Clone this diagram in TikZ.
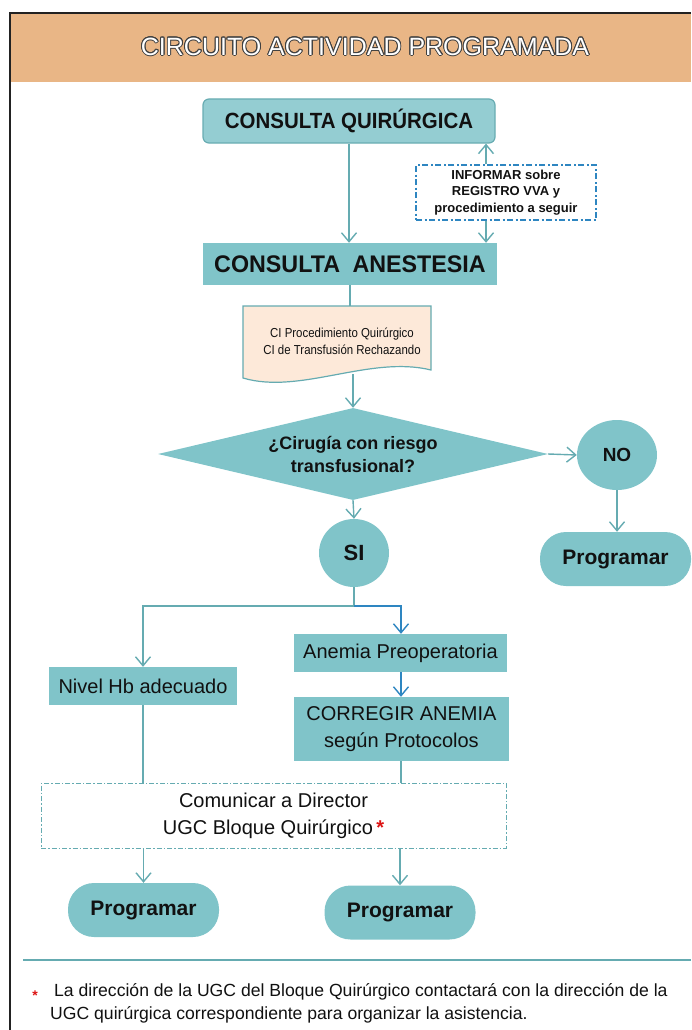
\documentclass[tikz,border=0pt]{standalone}
\usepackage{fontspec}
\setmainfont{Liberation Sans}
\usepackage{contour}
\usetikzlibrary{arrows.meta,shapes.geometric}
\definecolor{hdr}{RGB}{233,182,134}
\definecolor{tealf}{RGB}{128,196,201}
\definecolor{tealq}{RGB}{148,205,210}
\definecolor{tealb}{RGB}{104,172,178}
\definecolor{tline}{RGB}{101,171,177}
\definecolor{bline}{RGB}{46,134,193}
\definecolor{docf}{RGB}{253,233,217}
\definecolor{frm}{RGB}{34,34,34}
\definecolor{txt}{RGB}{17,17,17}
\definecolor{astr}{RGB}{220,20,20}
\contourlength{0.9pt}
\begin{document}
\begin{tikzpicture}[x=1pt,y=-1pt,
  every node/.style={text=txt,inner sep=0pt,align=center},
  boxf/.style={rectangle,fill=tealf},
  pill/.style={rectangle,fill=tealf,rounded corners=26pt,minimum width=151pt,minimum height=54pt,
     font=\fontsize{21}{25}\selectfont\bfseries},
  arr/.style={draw=tline,line width=1.4pt,-{Straight Barb[length=9pt,width=15pt,line width=1.4pt]}},
  barr/.style={draw=bline,line width=1.4pt,-{Straight Barb[length=9pt,width=15pt,line width=1.4pt]}},
  ln/.style={draw=tline,line width=1.4pt},
]
\useasboundingbox (0,0) rectangle (691,1030);
% frame and header
\fill[hdr] (11,14) rectangle (691,82);
\draw[frm,line width=2.5pt] (10,1030) -- (10,13) -- (691,13);
\node (title) at (365,47) {\fontsize{25}{30}\selectfont\contour{black!75}{\textcolor{white}{CIRCUITO ACTIVIDAD PROGRAMADA}}};

% top boxes
\node[rectangle,fill=tealq,draw=tealb,line width=1.2pt,rounded corners=6pt,minimum width=292pt,minimum height=44pt,
  font=\fontsize{22}{26}\selectfont\bfseries\addfontfeatures{FakeStretch=0.93}] (cq) at (349,121) {CONSULTA QUIRÚRGICA};
\node[boxf,minimum width=294pt,minimum height=42pt,
  font=\fontsize{24}{28}\selectfont\bfseries\addfontfeatures{FakeStretch=0.97}] (ca) at (350,264) {CONSULTA\hspace{0.25em} ANESTESIA};
\node[rectangle,draw=bline,line width=1.3pt,dash pattern=on 6pt off 2.5pt on 2pt off 2.5pt,
  minimum width=180pt,minimum height=55pt,font=\fontsize{13}{16.5}\selectfont\bfseries] (inf) at (506,192.5)
  {INFORMAR sobre\\REGISTRO VVA y\\procedimiento a seguir};
\coordinate (ax) at (486,0);
\draw[arr] (inf.north -| ax) -- (cq.south -| ax);
\draw[arr] (inf.south -| ax) -- (ca.north -| ax);
\draw[arr] (cq.south) -- (cq.south |- ca.north);

% document shape
\draw[fill=docf,draw=tline,line width=1.2pt] (243,306) -- (431,306) -- (431,370)
   .. controls (370,355) and (300,395) .. (243,378) -- cycle;
\node[font=\fontsize{13}{17}\selectfont\addfontfeatures{FakeStretch=0.88}] (doc) at (342,341)
  {CI Procedimiento Quirúrgico\\CI de Transfusión Rechazando};
\coordinate (dtop) at (350,306);
\coordinate (dbot) at (353,374);
\draw[ln] (ca.south -| dtop) -- (dtop);

% decision
\node[diamond,fill=tealf,minimum width=390pt,minimum height=92pt,aspect=4.2,
  font=\fontsize{18}{23}\selectfont\bfseries] (dec) at (353,454) {¿Cirugía con riesgo\\transfusional?};
\draw[arr] (dbot) -- (dbot |- dec.north);
\node[ellipse,fill=tealf,minimum width=80pt,minimum height=70pt,font=\fontsize{19}{22}\selectfont\bfseries] (no) at (617,455) {NO};
\draw[arr] (dec.east) -- (no.west);
\node[pill] (pr) at (615.5,559) {Programar};
\draw[arr] (no.south) -- (no.south |- pr.north);
\node[ellipse,fill=tealf,minimum width=70pt,minimum height=68pt,font=\fontsize{22}{26}\selectfont\bfseries] (si) at (354,553) {SI};
\draw[arr] (dec.south) -- (si.north);

% branches
\node[boxf,minimum width=188pt,minimum height=38pt,font=\fontsize{20}{24}\selectfont] (hb) at (143,686) {Nivel Hb adecuado};
\node[boxf,minimum width=213pt,minimum height=38pt,font=\fontsize{20}{24}\selectfont] (an) at (400.5,653) {Anemia Preoperatoria};
\node[boxf,minimum width=215pt,minimum height=64pt,font=\fontsize{20}{26.5}\selectfont] (co) at (401.5,729) {CORREGIR ANEMIA\\según Protocolos};
\coordinate (j) at (354,606);
\coordinate (bx) at (401,0);
\draw[ln] (si.south) -- (j);
\draw[arr] (j) -| (hb.north);
\draw[barr] (j) -| (bx |- an.north);
\draw[barr] (bx |- an.south) -- (bx |- co.north);

% communicate
\node[rectangle,fill=white,draw=tline,line width=1pt,dash pattern=on 5pt off 2pt on 1.5pt off 2pt,
  minimum width=465pt,minimum height=65pt,font=\fontsize{20}{27}\selectfont] (cm) at (273.5,815.5)
  {Comunicar a Director\\UGC Bloque Quirúrgico\,\textcolor{astr}{\bfseries *}};
\draw[ln] (hb.south) -- (hb.south |- cm.north);
\draw[ln] (bx |- co.south) -- (bx |- cm.north);
\node[pill] (pl) at (143.5,910) {Programar};
\node[pill] (pm) at (400,912.5) {Programar};
\draw[arr] (cm.south -| pl.north) -- (pl.north);
\draw[arr] (cm.south -| pm.north) -- (pm.north);

% footnote
\draw[tline,line width=2pt] (23,960) -- (691,960);
\node[anchor=base,text=astr,font=\fontsize{14}{14}\selectfont\bfseries] (ast) at (35,1000) {*};
\node[anchor=base west,align=left,font=\fontsize{17.6}{22}\selectfont] (fn1) at (54,996)
  {La dirección de la UGC del Bloque Quirúrgico contactará con la dirección de la};
\node[anchor=base west,align=left,font=\fontsize{17.6}{22}\selectfont] (fn2) at (50,1019)
  {UGC quirúrgica correspondiente para organizar la asistencia.};
\end{tikzpicture}
\end{document}
